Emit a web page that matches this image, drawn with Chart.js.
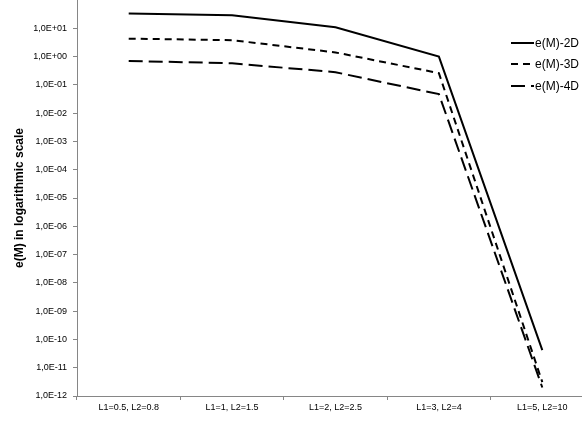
<!DOCTYPE html>
<html>
<head>
<meta charset="utf-8">
<script src="https://cdn.jsdelivr.net/npm/chart.js@4/dist/chart.umd.min.js"></script>
<style>
  html, body { margin: 0; padding: 0; background: #fff; overflow: hidden; }
  #wrap { width: 600px; height: 424px; }
</style>
</head>
<body>
<div id="wrap"><canvas id="c" width="600" height="424"></canvas></div>
<script>
// Parameter pairs along the x axis
const categories = ['L1=0.5, L2=0.8', 'L1=1, L2=1.5', 'L1=2, L2=2.5', 'L1=3, L2=4', 'L1=5, L2=10'];

// Error e(M) per dimension
const e2D = [33, 29, 10.8, 1.0, 4.2e-11];
const e3D = [4.3, 3.8, 1.4, 0.26, 3.1e-12];
const e4D = [0.70, 0.58, 0.28, 0.047, 2.0e-12];

// Decade ticks on the log axis
const yTickValues = [1e-12, 1e-11, 1e-10, 1e-9, 1e-8, 1e-7, 1e-6, 1e-5, 1e-4, 1e-3, 1e-2, 1e-1, 1e0, 1e1];

const seriesLabels = ['e(M)-2D', 'e(M)-3D', 'e(M)-4D'];

function sciLabel(v) {
  const exp = Math.round(Math.log10(v));
  const sign = exp < 0 ? '-' : '+';
  const digits = String(Math.abs(exp)).padStart(2, '0');
  return '1,0E' + sign + digits;
}

const FONT = "'Liberation Sans', Arial, sans-serif";
const AXIS_GREY = '#868686';

// Legend drawn over the upper right of the plot
const sideLegend = {
  id: 'sideLegend',
  afterDraw(chart) {
    const ctx = chart.ctx;
    const x0 = 511, lineLen = 23, rows = [43, 64, 86];
    ctx.save();
    chart.data.datasets.forEach((ds, i) => {
      const y = rows[i];
      ctx.beginPath();
      ctx.setLineDash(ds.borderDash || []);
      ctx.lineWidth = ds.borderWidth;
      ctx.strokeStyle = ds.borderColor;
      ctx.moveTo(x0, y);
      ctx.lineTo(x0 + lineLen, y);
      ctx.stroke();
      ctx.setLineDash([]);
      ctx.fillStyle = '#000';
      ctx.font = '12px ' + FONT;
      ctx.textBaseline = 'middle';
      ctx.textAlign = 'left';
      ctx.fillText(ds.label, x0 + lineLen + 1, y + 0.5);
    });
    ctx.restore();
  }
};

new Chart(document.getElementById('c'), {
  type: 'line',
  data: {
    labels: categories,
    datasets: [
      { label: seriesLabels[0], data: e2D, borderColor: '#000', borderWidth: 2, borderDash: [], pointRadius: 0, tension: 0, fill: false },
      { label: seriesLabels[1], data: e3D, borderColor: '#000', borderWidth: 2, borderDash: [7, 5], pointRadius: 0, tension: 0, fill: false },
      { label: seriesLabels[2], data: e4D, borderColor: '#000', borderWidth: 2, borderDash: [14, 6], pointRadius: 0, tension: 0, fill: false }
    ]
  },
  options: {
    responsive: false,
    animation: false,
    layout: { padding: { top: 0, right: 6, bottom: 0, left: 0 } },
    plugins: {
      legend: { display: false },
      tooltip: { enabled: false }
    },
    scales: {
      x: {
        type: 'category',
        offset: true,
        border: { display: true, color: AXIS_GREY, width: 1 },
        grid: { display: true, offset: true, drawOnChartArea: false, drawTicks: true, tickLength: 4, color: AXIS_GREY },
        ticks: { color: '#000', font: { family: FONT, size: 9 }, padding: 2, maxRotation: 0, autoSkip: false },
        afterFit(scale) {
          scale.height = 28;
          scale.paddingLeft = 0;
          scale.paddingRight = 0;
        }
      },
      y: {
        type: 'logarithmic',
        min: 1e-12,
        max: 1e2,
        border: { display: true, color: AXIS_GREY, width: 1 },
        grid: { display: true, drawOnChartArea: false, drawTicks: true, tickLength: 4, color: AXIS_GREY },
        afterBuildTicks(scale) {
          scale.ticks = yTickValues.map(v => ({ value: v, major: false }));
        },
        ticks: {
          color: '#000',
          font: { family: FONT, size: 9 },
          padding: 6,
          autoSkip: false,
          callback: (v) => sciLabel(v)
        },
        title: {
          display: true,
          text: 'e(M) in logarithmic scale',
          color: '#000',
          font: { family: FONT, size: 12, weight: 'bold' },
          padding: { top: 12, bottom: 4 }
        },
        afterFit(scale) {
          scale.width = 77;
          scale.paddingTop = 0;
          scale.paddingBottom = 0;
        }
      }
    }
  },
  plugins: [sideLegend]
});
</script>
</body>
</html>
